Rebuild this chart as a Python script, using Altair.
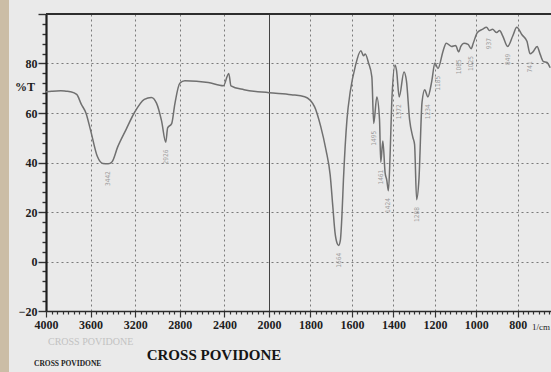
import altair as alt
import pandas as pd

# FTIR transmission spectrum of cross-linked povidone (wavenumber in 1/cm, %T)
wavenumber = [4000, 3950, 3867, 3820, 3783, 3725, 3683, 3642, 3600, 3539, 3490, 3442,
              3409, 3357, 3280, 3209, 3118, 3055, 3009, 2964, 2926, 2909, 2873, 2845,
              2800, 2755, 2545, 2409, 2361, 2341, 2224, 2000, 1893, 1828, 1780, 1751,
              1725, 1705, 1692, 1682, 1672, 1664, 1656, 1648, 1641, 1624, 1608, 1584,
              1557, 1544, 1536, 1520, 1504, 1495, 1480, 1467, 1461, 1451, 1440, 1432,
              1424, 1416, 1408, 1392, 1385, 1372, 1349, 1337, 1322, 1306, 1298, 1288,
              1277, 1262, 1249, 1234, 1215, 1200, 1185, 1160, 1145, 1120, 1100, 1085,
              1075, 1060, 1040, 1025, 1015, 995, 971, 951, 937, 922, 902, 888,
              873, 849, 824, 805, 780, 756, 741, 727, 707, 693, 678, 659, 644]
transmittance = [68.6, 68.8, 69.0, 68.8, 68.6, 67.5, 63.5, 60.0, 53.0, 42.4, 39.6, 39.5,
                 40.2, 46.3, 53.5, 60.0, 65.5, 66.3, 64.0, 56.9, 48.2, 54.0, 55.7, 63.5,
                 72.0, 73.0, 72.3, 71.0, 76.0, 71.0, 69.4, 68.2, 67.4, 66.6, 62.5, 54.7,
                 45.0, 35.0, 22.0, 12.0, 7.5, 6.5, 8.5, 19.0, 33.0, 57.3, 68.7, 78.8,
                 85.2, 83.1, 83.8, 80.2, 74.6, 55.8, 66.5, 57.3, 40.1, 48.7, 35.8, 32.9,
                 28.6, 42.9, 64.3, 79.4, 77.2, 66.5, 76.6, 72.9, 57.3, 50.1, 47.3, 25.0,
                 33.0, 64.3, 69.4, 66.5, 72.9, 80.2, 78.0, 85.2, 88.2, 86.9, 87.3, 84.7,
                 86.9, 88.2, 87.7, 86.0, 88.2, 92.5, 93.8, 94.6, 93.3, 93.8, 92.5, 93.3,
                 91.2, 86.9, 91.2, 94.6, 91.6, 89.0, 83.9, 84.7, 86.9, 83.9, 80.9, 80.4, 78.3]

# bands marked with their wavenumber
peak_wavenumbers = [3442, 2926, 1664, 1495, 1461, 1424, 1372, 1288, 1234,
                    1185, 1085, 1025, 937, 849, 741]

major_x = [4000, 3600, 3200, 2800, 2400, 2000, 1800, 1600, 1400, 1200, 1000, 800]
minor_x = list(range(4000, 2000, -50)) + list(range(2000, 639, -25))
x_ticks = sorted(set(major_x + minor_x), reverse=True)
y_ticks = list(range(-20, 101, 4))

spectrum = pd.DataFrame({"wn": wavenumber, "T": transmittance})
peaks = spectrum[spectrum["wn"].isin(peak_wavenumbers)].copy()
peaks["tag"] = peaks["wn"].map(lambda v: f"{v:d}")

W, H = 505, 297
major_list = "[" + ",".join(str(v) for v in major_x) + "]"
grid_list = "[" + ",".join(str(v) for v in major_x[1:]) + "]"

# expanded scale below 2000 1/cm, as on the instrument chart
x_scale = alt.Scale(domain=[4000, 2000, 640], range=[0, 223, W], nice=False, zero=False)
y_scale = alt.Scale(domain=[-20, 100], nice=False, zero=False)

x_axis = alt.Axis(
    values=x_ticks, format="d", title=None,
    labelExpr=f"indexof({major_list}, datum.value) >= 0 ? datum.label : ''",
    labelOverlap=False, labelFlush=False,
    labelFont="Liberation Sans Narrow", labelFontSize=12, labelFontWeight="bold",
    labelColor="#1e1e1e", labelPadding=2,
    tickSize={"condition": {"test": f"indexof({major_list}, datum.value) >= 0", "value": 6}, "value": 3},
    tickColor="#333", tickWidth=1.2,
    domainColor="#2a2a2a", domainWidth=1.6,
    grid=True,
    gridOpacity={"condition": {"test": f"indexof({grid_list}, datum.value) >= 0", "value": 1}, "value": 0},
    gridColor={"condition": {"test": "datum.value === 2000", "value": "#444"}, "value": "#7a7a7a"},
    gridDash={"condition": {"test": "datum.value === 2000", "value": []}, "value": [2, 3]},
    gridWidth=1,
)
y_axis = alt.Axis(
    values=y_ticks, title=None,
    labelExpr="datum.value % 20 === 0 && datum.value < 100 ? datum.label : ''",
    labelOverlap=False, labelFlush=False,
    labelFont="Liberation Sans Narrow", labelFontSize=12, labelFontWeight="bold",
    labelColor="#1e1e1e", labelPadding=1,
    tickSize={"condition": {"test": "datum.value % 20 === 0", "value": 8}, "value": 4},
    tickColor="#333", tickWidth=1.4,
    domainColor="#1e1e1e", domainWidth=2.2,
    grid=True,
    gridOpacity={"condition": {"test": "datum.value % 20 === 0 && datum.value > -20 && datum.value < 100", "value": 1}, "value": 0},
    gridColor="#7a7a7a", gridDash=[2, 3], gridWidth=1,
)

x_enc = alt.X("wn:Q", scale=x_scale, axis=x_axis, title=None)
y_enc = alt.Y("T:Q", scale=y_scale, axis=y_axis, title=None)

line = alt.Chart(spectrum).mark_line(color="#707070", strokeWidth=1.5, interpolate="monotone").encode(
    x=x_enc, y=y_enc, order="order:Q"
).transform_window(order="row_number()")

peak_tags = alt.Chart(peaks).transform_calculate(Ty="datum.T - 3").mark_text(
    angle=270, align="right", baseline="middle", fontSize=6.5, font="DejaVu Sans Condensed",
    color="#9c9c9c"
).encode(
    x=x_enc,
    y=alt.Y("Ty:Q", scale=y_scale, axis=y_axis, title=None),
    text="tag:N",
)

one = pd.DataFrame({"k": [0]})

frame_top = alt.Chart(one).mark_rule(color="#2e2e2e", strokeWidth=2.2).encode(
    x=alt.value(0), x2=alt.value(W), y=alt.value(0)
)
paper_edge = alt.Chart(one).mark_rect(color="#cbbda6").encode(
    x=alt.value(-46), x2=alt.value(-37), y=alt.value(-14), y2=alt.value(H + 61)
)
pct_t = alt.Chart(one).mark_text(
    text="%T", align="right", baseline="middle", font="Liberation Sans Narrow",
    fontSize=12, fontWeight="bold", color="#1e1e1e"
).encode(x=alt.value(-11), y=alt.value(73))
unit = alt.Chart(one).mark_text(
    text="1/cm", align="right", baseline="middle", font="Liberation Sans Narrow",
    fontSize=9, color="#1e1e1e"
).encode(x=alt.value(W - 1), y=alt.value(313))
ghost = alt.Chart(one).mark_text(
    text="CROSS POVIDONE", align="left", baseline="alphabetic", font="Liberation Serif",
    fontSize=10, color="#c2c2c2"
).encode(x=alt.value(2), y=alt.value(331))
title = alt.Chart(one).mark_text(
    text="CROSS POVIDONE", align="center", baseline="alphabetic", font="Liberation Serif",
    fontSize=15, fontWeight="bold", color="#151515"
).encode(x=alt.value(168), y=alt.value(346))
sample = alt.Chart(one).mark_text(
    text="CROSS POVIDONE", align="left", baseline="alphabetic", font="Liberation Serif",
    fontSize=7.5, fontWeight="bold", color="#222"
).encode(x=alt.value(-12), y=alt.value(352))

chart = alt.layer(
    paper_edge, frame_top, line, peak_tags, pct_t, unit, ghost, title, sample
).properties(
    width=W, height=H,
    autosize=alt.AutoSizeParams(type="none"),
    padding={"left": 46, "top": 14, "right": 0, "bottom": 61},
    background="#eaeaea",
).configure_view(stroke=None)

chart.save("out.html", embed_options={"renderer": "svg", "actions": False})
